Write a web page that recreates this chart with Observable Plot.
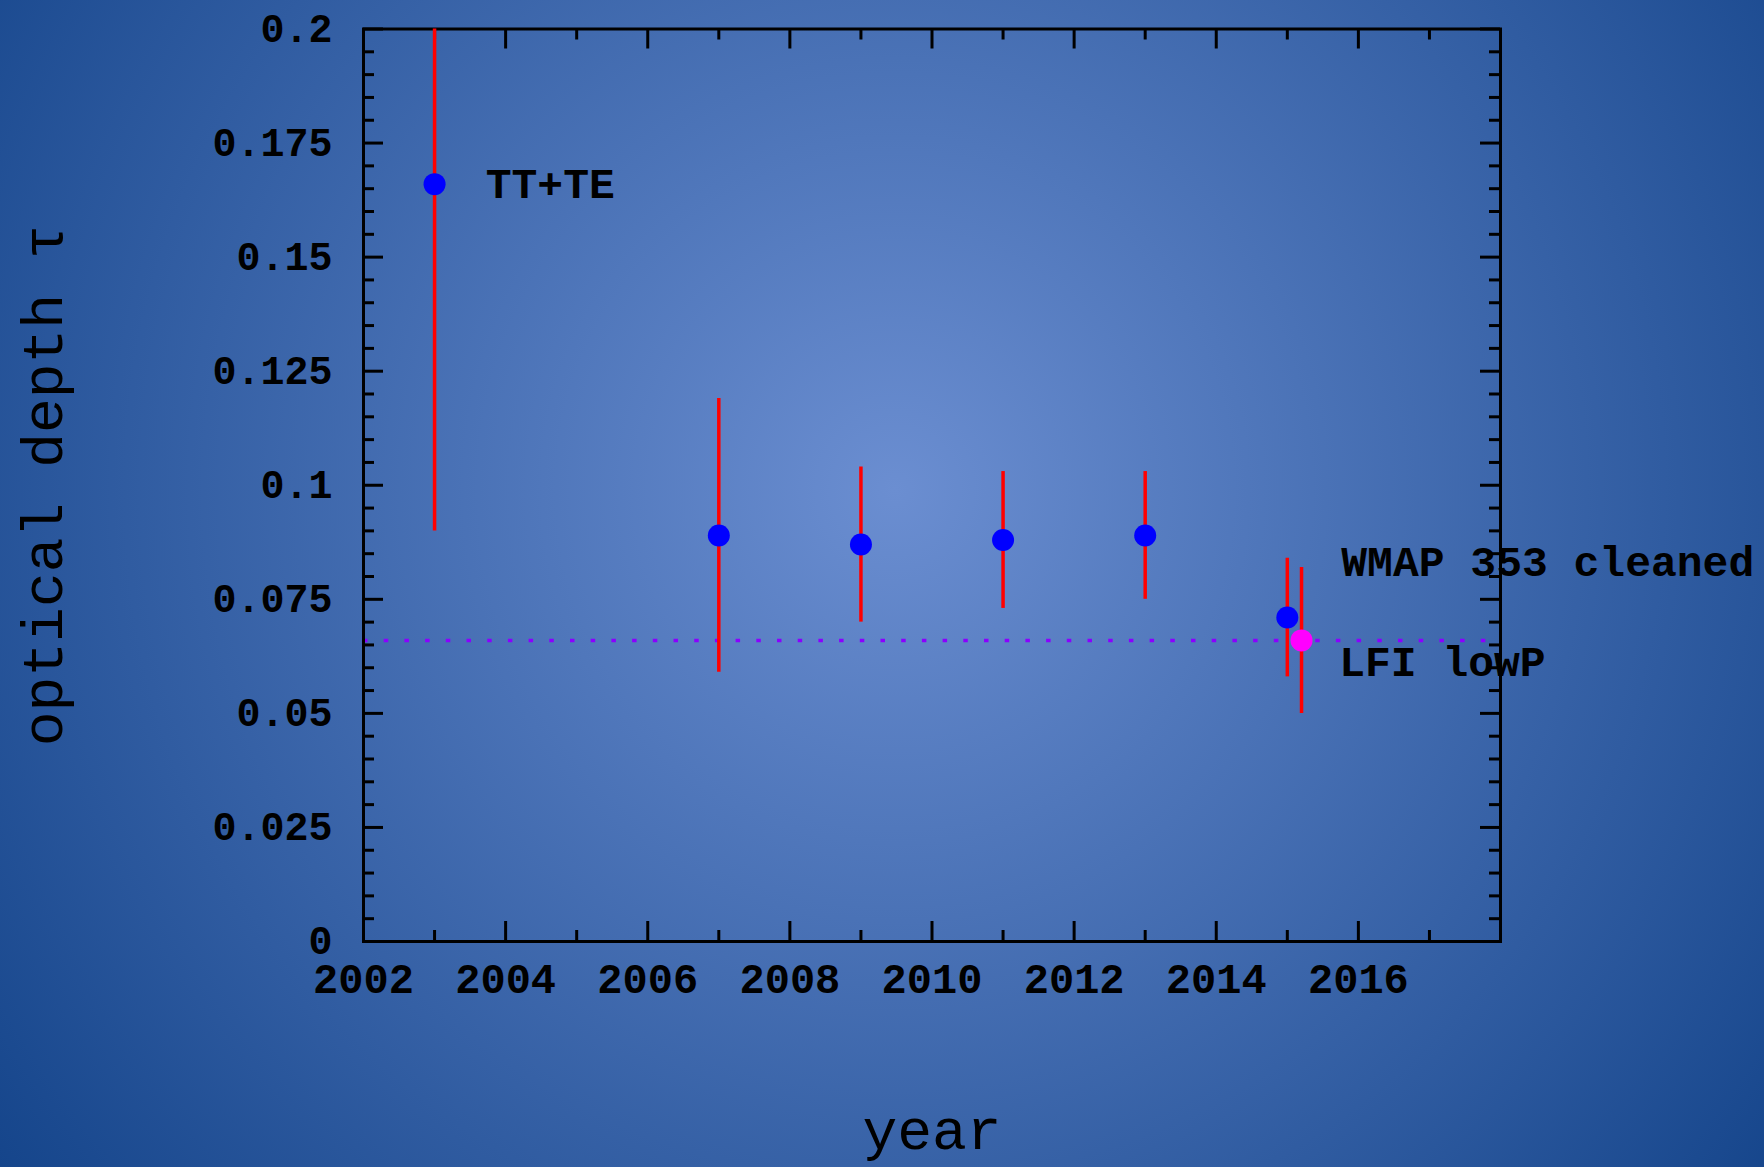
<!DOCTYPE html>
<html>
<head>
<meta charset="utf-8">
<script src="https://cdn.jsdelivr.net/npm/d3@7"></script>
<script src="https://cdn.jsdelivr.net/npm/@observablehq/plot@0.6"></script>
<style>
  html, body { margin: 0; padding: 0; width: 1764px; height: 1167px; overflow: hidden; }
  body { background: radial-gradient(circle farthest-corner at 895px 490px, #6b8ed1 0%, #15458b 100%); }
  #chart svg { display: block; }
</style>
</head>
<body>
<div id="chart"></div>
<script>
// ---- data ----
const years    = [2003, 2007, 2009, 2011, 2013, 2015];
const tau      = [0.166, 0.089, 0.087, 0.088, 0.089, 0.071];
const tauLow   = [0.090, 0.059, 0.070, 0.073, 0.075, 0.058];
const tauHigh  = [0.210, 0.119, 0.104, 0.103, 0.103, 0.084];

const lfiYear = [2015.2];
const lfiTau  = [0.066];
const lfiLow  = [0.050];
const lfiHigh = [0.082];

const refLine = [0.066];

const annoText = ["TT+TE", "WMAP 353 cleaned", "LFI lowP"];
const annoX    = [2003.72, 2015.76, 2015.73];
const annoY    = [0.166, 0.0831, 0.0611];

const xTicks      = [2002, 2004, 2006, 2008, 2010, 2012, 2014, 2016];
const xTickLabels = ["2002", "2004", "2006", "2008", "2010", "2012", "2014", "2016"];
const xMinor      = [2003, 2005, 2007, 2009, 2011, 2013, 2015, 2017];
const yTicks      = [0, 0.025, 0.05, 0.075, 0.1, 0.125, 0.15, 0.175, 0.2];
const yTickLabels = ["0", "0.025", "0.05", "0.075", "0.1", "0.125", "0.15", "0.175", "0.2"];
const yMinor      = d3.range(0, 41).map(i => i * 0.005).filter(v => Math.round(v * 1000) % 25 !== 0);

const xLabel = "year";
const yLabel = "optical depth τ";

// ---- tables ----
const wmap = years.map((y, i) => ({year: y, tau: tau[i], lo: tauLow[i], hi: tauHigh[i]}));
const lfi = lfiYear.map((y, i) => ({year: y, tau: lfiTau[i], lo: lfiLow[i], hi: lfiHigh[i]}));
const annos = annoText.map((t, i) => ({text: t, x: annoX[i], y: annoY[i]}));

// ---- layout ----
const W = 1764, H = 1167;
const mL = 363, mR = 264, mT = 28.5, mB = 226;
const plotW = W - mL - mR;
const plotH = H - mT - mB;
const font = "'Liberation Mono', 'DejaVu Sans Mono', monospace";
const majorLen = 20, minorLen = 11, tw = 3;

const chart = Plot.plot({
  width: W, height: H,
  marginLeft: mL, marginRight: mR, marginTop: mT, marginBottom: mB,
  style: {background: "transparent", fontFamily: font, color: "black", overflow: "visible"},
  x: {domain: [2002, 2018]},
  y: {domain: [0, 0.2]},
  marks: [
    // reference line
    Plot.ruleY(refLine, {y: d => d, stroke: "#8a00ff", strokeWidth: 3.5, strokeDasharray: "4.5 16.2"}),
    // ticks bottom/top
    Plot.tickX(xTicks, {x: d => d, insetTop: plotH - majorLen, stroke: "black", strokeWidth: tw}),
    Plot.tickX(xTicks, {x: d => d, insetBottom: plotH - majorLen, stroke: "black", strokeWidth: tw}),
    Plot.tickX(xMinor, {x: d => d, insetTop: plotH - minorLen, stroke: "black", strokeWidth: tw}),
    Plot.tickX(xMinor, {x: d => d, insetBottom: plotH - minorLen, stroke: "black", strokeWidth: tw}),
    // ticks left/right
    Plot.tickY(yTicks, {y: d => d, insetRight: plotW - majorLen, stroke: "black", strokeWidth: tw}),
    Plot.tickY(yTicks, {y: d => d, insetLeft: plotW - majorLen, stroke: "black", strokeWidth: tw}),
    Plot.tickY(yMinor, {y: d => d, insetRight: plotW - minorLen, stroke: "black", strokeWidth: tw}),
    Plot.tickY(yMinor, {y: d => d, insetLeft: plotW - minorLen, stroke: "black", strokeWidth: tw}),
    // tick labels
    Plot.axisX(xTicks, {anchor: "bottom", tickSize: 0, tickPadding: 22, fontSize: 42, fontWeight: "bold", fill: "black",
      tickFormat: d => xTickLabels[xTicks.indexOf(d)], label: null}),
    Plot.axisY(yTicks, {anchor: "left", tickSize: 0, tickPadding: 31, fontSize: 40, fontWeight: "bold", fill: "black",
      tickFormat: d => yTickLabels[yTicks.indexOf(d)], label: null}),
    // frame
    Plot.frame({stroke: "black", strokeWidth: 3}),
    // error bars and points
    Plot.ruleX(wmap, {x: "year", y1: "lo", y2: "hi", stroke: "#ff0000", strokeWidth: 3.5, clip: true}),
    Plot.dot(wmap, {x: "year", y: "tau", r: 11, fill: "#0000ff"}),
    Plot.ruleX(lfi, {x: "year", y1: "lo", y2: "hi", stroke: "#ff0000", strokeWidth: 3.5, clip: true}),
    Plot.dot(lfi, {x: "year", y: "tau", r: 11, fill: "#ff00ff"}),
    // annotations
    Plot.text(annos, {x: "x", y: "y", text: "text", textAnchor: "start", fontSize: 43, fontWeight: "bold", fill: "black"}),
    // axis titles
    Plot.text([xLabel], {frameAnchor: "bottom", textAnchor: "middle", lineAnchor: "bottom", dy: 207, fontSize: 58, fill: "black"}),
    Plot.text([yLabel], {frameAnchor: "left", textAnchor: "middle", lineAnchor: "bottom", rotate: -90, dx: -302, fontSize: 58, fill: "black"})
  ]
});
document.getElementById("chart").appendChild(chart);
</script>
</body>
</html>
